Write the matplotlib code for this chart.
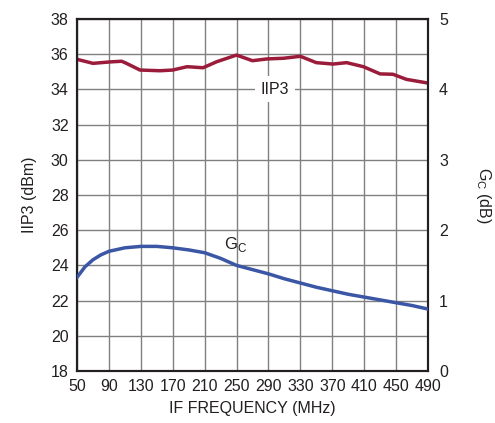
import matplotlib.pyplot as plt

# values
freq_iip3 = [50, 70, 91, 106, 112, 129, 154, 170, 188, 208, 225, 250, 270, 288, 309,
             330, 350, 371, 388, 409, 430, 446, 463, 490]
iip3 = [35.71, 35.48, 35.56, 35.6, 35.48, 35.1, 35.06, 35.1, 35.29, 35.23, 35.57, 35.95,
        35.63, 35.73, 35.77, 35.88, 35.52, 35.44, 35.52, 35.29, 34.88, 34.86, 34.57, 34.36]

freq_gc = [50, 60, 70, 80, 90, 110, 130, 150, 170, 190, 210, 230, 250, 270, 290, 310,
           330, 350, 370, 390, 410, 430, 450, 470, 490]
gc = [1.33, 1.48, 1.58, 1.65, 1.7, 1.75, 1.77, 1.77, 1.75, 1.72, 1.68, 1.6, 1.5, 1.44,
      1.38, 1.31, 1.25, 1.19, 1.14, 1.09, 1.05, 1.01, 0.97, 0.93, 0.88]

xticks = list(range(50, 491, 40))

plt.rcParams['font.family'] = 'Liberation Sans'
plt.rcParams['mathtext.fontset'] = 'custom'
plt.rcParams['mathtext.rm'] = 'Liberation Sans'
ink = '#231f20'

fig = plt.figure(figsize=(4.95, 4.23), dpi=100)
ax = fig.add_axes([77 / 495, 1 - 371 / 423, 351 / 495, 352 / 423])
ax2 = ax.twinx()

ax.plot(freq_iip3, iip3, color='#9B1B3A', lw=2.5, zorder=3, solid_joinstyle='round')
ax2.plot(freq_gc, gc, color='#3A56A5', lw=2.5, zorder=3, solid_joinstyle='round')

ax.set_xlim(50, 490)
ax.set_ylim(18, 38)
ax2.set_ylim(0, 5)
ax.set_xticks(xticks)
ax.set_yticks(range(18, 39, 2))
ax2.set_yticks(range(0, 6))
ax.grid(True, color='#808080', lw=1)
ax.set_axisbelow(True)
ax.tick_params(length=0, labelsize=11.5, pad=6, colors=ink)
ax2.tick_params(length=0, labelsize=11.5, pad=8, colors=ink)
for a in (ax, ax2):
    for sp in a.spines.values():
        sp.set_linewidth(1.5)
        sp.set_color(ink)

ax.set_xlabel('IF FREQUENCY (MHz)', fontsize=11.5, color=ink, labelpad=5)
ax.set_ylabel('IIP3 (dBm)', fontsize=11.5, color=ink, labelpad=10)
ax2.set_ylabel('G$_\\mathregular{C}$ (dB)', fontsize=11.5, color=ink,
               rotation=270, labelpad=32)

ax.text(298, 34, 'IIP3', fontsize=11.5, ha='center', va='center', color=ink,
        bbox=dict(facecolor='white', edgecolor='none', pad=4), zorder=4)
ax.text(249, 25.2, 'G$_\\mathregular{C}$', fontsize=12, ha='center', va='center',
        color=ink, zorder=4)

fig.savefig('out.png', dpi=100)
